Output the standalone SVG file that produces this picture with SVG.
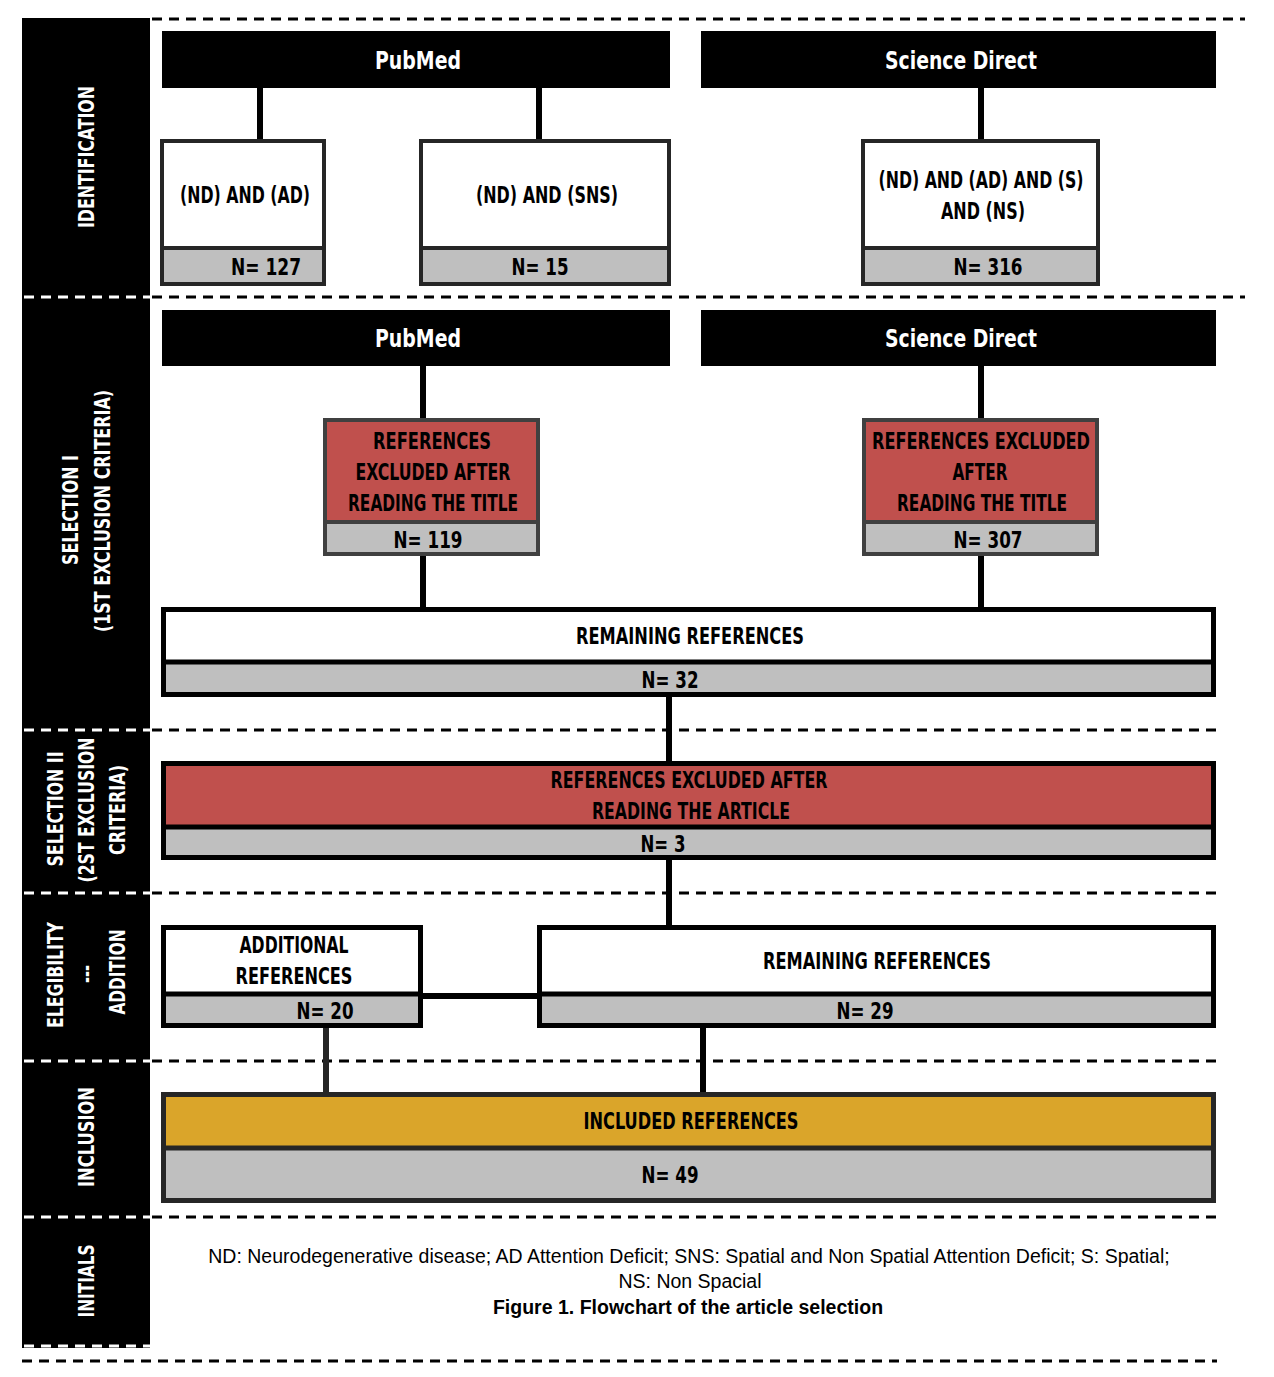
<svg xmlns="http://www.w3.org/2000/svg" width="1274" height="1377" viewBox="0 0 1274 1377">
<style>
.hd{fill:#000}
.ht{fill:#fff;font-family:"Liberation Sans Narrow","DejaVu Sans Condensed","Liberation Sans",sans-serif;font-weight:bold;font-size:24px;text-anchor:middle}
.bt{fill:#000;font-family:"Liberation Sans Narrow","DejaVu Sans Condensed","Liberation Sans",sans-serif;font-weight:bold;font-size:22.5px;text-anchor:middle}
.st{fill:#fff;font-family:"Liberation Sans Narrow","DejaVu Sans Condensed","Liberation Sans",sans-serif;font-weight:bold;font-size:21px;text-anchor:middle}
.nt{fill:#000;font-family:"Liberation Sans",Arial,sans-serif;font-size:19.5px;text-anchor:middle}
.gray{fill:#bfbfbf}
.b1{stroke:#262626;stroke-width:4}
.b2{stroke:#404040;stroke-width:4}
.b3{stroke:#000;stroke-width:5}
.b4{stroke:#262626;stroke-width:5}
.dk{stroke:#000;stroke-width:3;stroke-dasharray:10 7;fill:none}
.dw{stroke:#fff;stroke-width:3;stroke-dasharray:10 7;fill:none}
.cn{stroke:#000;stroke-width:6;fill:none}
</style>

<g id="sidebar">
<rect x="22" y="18" width="128" height="1330" fill="#000"/>
<text class="st" transform="translate(86,157) rotate(-90)" dy="7.5" textLength="142" lengthAdjust="spacingAndGlyphs">IDENTIFICATION</text>
<text class="st" transform="translate(70,510) rotate(-90)" dy="7.5" textLength="110" lengthAdjust="spacingAndGlyphs">SELECTION I</text>
<text class="st" transform="translate(102,511) rotate(-90)" dy="7.5" textLength="242" lengthAdjust="spacingAndGlyphs">(1ST EXCLUSION CRITERIA)</text>
<text class="st" transform="translate(55,809) rotate(-90)" dy="7.5" textLength="115" lengthAdjust="spacingAndGlyphs">SELECTION II</text>
<text class="st" transform="translate(86,810) rotate(-90)" dy="7.5" textLength="145" lengthAdjust="spacingAndGlyphs">(2ST EXCLUSION</text>
<text class="st" transform="translate(117,810) rotate(-90)" dy="7.5" textLength="90" lengthAdjust="spacingAndGlyphs">CRITERIA)</text>
<text class="st" transform="translate(55,975) rotate(-90)" dy="7.5" textLength="106" lengthAdjust="spacingAndGlyphs">ELEGIBILITY</text>
<text class="st" transform="translate(86,974) rotate(-90)" dy="7.5" textLength="18" lengthAdjust="spacingAndGlyphs">---</text>
<text class="st" transform="translate(117,972) rotate(-90)" dy="7.5" textLength="85" lengthAdjust="spacingAndGlyphs">ADDITION</text>
<text class="st" transform="translate(86,1137) rotate(-90)" dy="7.5" textLength="100" lengthAdjust="spacingAndGlyphs">INCLUSION</text>
<text class="st" transform="translate(86,1281) rotate(-90)" dy="7.5" textLength="73" lengthAdjust="spacingAndGlyphs">INITIALS</text>
</g>

<g id="separators">
<line class="dk" x1="152" y1="19" x2="1245" y2="19"/>
<line class="dw" x1="24" y1="297" x2="150" y2="297"/>
<line class="dk" x1="152" y1="297" x2="1245" y2="297"/>
<line class="dw" x1="24" y1="730" x2="150" y2="730"/>
<line class="dk" x1="152" y1="730" x2="1217" y2="730"/>
<line class="dw" x1="24" y1="893" x2="150" y2="893"/>
<line class="dk" x1="152" y1="893" x2="1217" y2="893"/>
<line class="dw" x1="24" y1="1061" x2="150" y2="1061"/>
<line class="dk" x1="152" y1="1061" x2="1217" y2="1061"/>
<line class="dw" x1="24" y1="1217" x2="150" y2="1217"/>
<line class="dk" x1="152" y1="1217" x2="1217" y2="1217"/>
<line class="dw" x1="24" y1="1346" x2="150" y2="1346"/>
<line class="dk" x1="22" y1="1361" x2="1217" y2="1361"/>
</g>

<g id="connectors">
<line class="cn" x1="260" y1="88" x2="260" y2="141"/>
<line class="cn" x1="539" y1="88" x2="539" y2="141"/>
<line class="cn" x1="981" y1="88" x2="981" y2="141"/>
<line class="cn" x1="423" y1="366" x2="423" y2="420"/>
<line class="cn" x1="981" y1="366" x2="981" y2="420"/>
<line class="cn" x1="423" y1="554" x2="423" y2="609"/>
<line class="cn" x1="981" y1="554" x2="981" y2="609"/>
<line class="cn" x1="669" y1="695" x2="669" y2="764"/>
<line class="cn" x1="669" y1="858" x2="669" y2="928"/>
<line class="cn" x1="421" y1="996" x2="539" y2="996"/>
<line class="cn" x1="326" y1="1026" x2="326" y2="1095" style="stroke:#262626"/>
<line class="cn" x1="703" y1="1026" x2="703" y2="1095"/>
</g>

<g id="pubmed1">
<rect class="hd" x="162" y="31" width="508" height="57"/>
<text class="ht" x="418" y="69" textLength="86" lengthAdjust="spacingAndGlyphs">PubMed</text>
</g>
<g id="sciencedirect1">
<rect class="hd" x="701" y="31" width="515" height="57"/>
<text class="ht" x="961" y="69" textLength="152" lengthAdjust="spacingAndGlyphs">Science Direct</text>
</g>

<g id="box-nd-ad">
<rect class="gray b1" x="162" y="141" width="162" height="143"/>
<rect class="b1" fill="#fff" x="162" y="141" width="162" height="107"/>
<text class="bt" x="245" y="203" textLength="130" lengthAdjust="spacingAndGlyphs">(ND) AND (AD)</text>
<text class="bt" x="266" y="275" textLength="70" lengthAdjust="spacingAndGlyphs">N= 127</text>
</g>
<g id="box-nd-sns">
<rect class="gray b1" x="421" y="141" width="248" height="143"/>
<rect class="b1" fill="#fff" x="421" y="141" width="248" height="107"/>
<text class="bt" x="547" y="203" textLength="142" lengthAdjust="spacingAndGlyphs">(ND) AND (SNS)</text>
<text class="bt" x="540" y="275" textLength="57" lengthAdjust="spacingAndGlyphs">N= 15</text>
</g>
<g id="box-nd-ad-s-ns">
<rect class="gray b1" x="863" y="141" width="235" height="143"/>
<rect class="b1" fill="#fff" x="863" y="141" width="235" height="107"/>
<text class="bt" x="981" y="188" textLength="205" lengthAdjust="spacingAndGlyphs">(ND) AND (AD) AND (S)</text>
<text class="bt" x="983" y="219" textLength="84" lengthAdjust="spacingAndGlyphs">AND (NS)</text>
<text class="bt" x="988" y="275" textLength="69" lengthAdjust="spacingAndGlyphs">N= 316</text>
</g>

<g id="pubmed2">
<rect class="hd" x="162" y="310" width="508" height="56"/>
<text class="ht" x="418" y="347" textLength="86" lengthAdjust="spacingAndGlyphs">PubMed</text>
</g>
<g id="sciencedirect2">
<rect class="hd" x="701" y="310" width="515" height="56"/>
<text class="ht" x="961" y="347" textLength="152" lengthAdjust="spacingAndGlyphs">Science Direct</text>
</g>

<g id="excluded-title-pubmed">
<rect class="gray b2" x="325" y="420" width="213" height="134"/>
<rect class="b2" fill="#c0504d" x="325" y="420" width="213" height="102"/>
<text class="bt" x="432" y="449" textLength="118" lengthAdjust="spacingAndGlyphs">REFERENCES</text>
<text class="bt" x="433" y="480" textLength="155" lengthAdjust="spacingAndGlyphs">EXCLUDED AFTER</text>
<text class="bt" x="433" y="511" textLength="170" lengthAdjust="spacingAndGlyphs">READING THE TITLE</text>
<text class="bt" x="428" y="548" textLength="69" lengthAdjust="spacingAndGlyphs">N= 119</text>
</g>
<g id="excluded-title-sd">
<rect class="gray b2" x="864" y="420" width="233" height="134"/>
<rect class="b2" fill="#c0504d" x="864" y="420" width="233" height="102"/>
<text class="bt" x="981" y="449" textLength="218" lengthAdjust="spacingAndGlyphs">REFERENCES EXCLUDED</text>
<text class="bt" x="980" y="480" textLength="55" lengthAdjust="spacingAndGlyphs">AFTER</text>
<text class="bt" x="982" y="511" textLength="170" lengthAdjust="spacingAndGlyphs">READING THE TITLE</text>
<text class="bt" x="988" y="548" textLength="69" lengthAdjust="spacingAndGlyphs">N= 307</text>
</g>

<g id="remaining1">
<rect class="gray b3" x="163.5" y="609.5" width="1050" height="85"/>
<rect class="b3" fill="#fff" x="163.5" y="609.5" width="1050" height="52.5"/>
<text class="bt" x="690" y="644" textLength="228" lengthAdjust="spacingAndGlyphs">REMAINING REFERENCES</text>
<text class="bt" x="670" y="688" textLength="57" lengthAdjust="spacingAndGlyphs">N= 32</text>
</g>

<g id="excluded-article">
<rect class="gray b3" x="163.5" y="763.5" width="1050" height="94"/>
<rect class="b3" fill="#c0504d" x="163.5" y="763.5" width="1050" height="63.5"/>
<text class="bt" x="689" y="788" textLength="277" lengthAdjust="spacingAndGlyphs">REFERENCES EXCLUDED AFTER</text>
<text class="bt" x="691" y="819" textLength="198" lengthAdjust="spacingAndGlyphs">READING THE ARTICLE</text>
<text class="bt" x="663" y="852" textLength="45" lengthAdjust="spacingAndGlyphs">N= 3</text>
</g>

<g id="additional">
<rect class="gray b3" x="163.5" y="927.5" width="257" height="98"/>
<rect class="b3" fill="#fff" x="163.5" y="927.5" width="257" height="66.5"/>
<text class="bt" x="294" y="953" textLength="109" lengthAdjust="spacingAndGlyphs">ADDITIONAL</text>
<text class="bt" x="294" y="984" textLength="117" lengthAdjust="spacingAndGlyphs">REFERENCES</text>
<text class="bt" x="325" y="1019" textLength="57" lengthAdjust="spacingAndGlyphs">N= 20</text>
</g>

<g id="remaining2">
<rect class="gray b3" x="539.5" y="927.5" width="674" height="98"/>
<rect class="b3" fill="#fff" x="539.5" y="927.5" width="674" height="66.5"/>
<text class="bt" x="877" y="969" textLength="228" lengthAdjust="spacingAndGlyphs">REMAINING REFERENCES</text>
<text class="bt" x="865" y="1019" textLength="57" lengthAdjust="spacingAndGlyphs">N= 29</text>
</g>

<g id="included">
<rect class="gray b4" x="163.5" y="1094.5" width="1050" height="106"/>
<rect class="b4" fill="#daa52a" x="163.5" y="1094.5" width="1050" height="53.5"/>
<text class="bt" x="691" y="1129" textLength="215" lengthAdjust="spacingAndGlyphs">INCLUDED REFERENCES</text>
<text class="bt" x="670" y="1183" textLength="57" lengthAdjust="spacingAndGlyphs">N= 49</text>
</g>

<g id="legend">
<text class="nt" x="689" y="1263">ND: Neurodegenerative disease; AD Attention Deficit; SNS: Spatial and Non Spatial Attention Deficit; S: Spatial;</text>
<text class="nt" x="690" y="1288">NS: Non Spacial</text>
<text class="nt" x="688" y="1314" font-weight="bold">Figure 1. Flowchart of the article selection</text>
</g>
</svg>
